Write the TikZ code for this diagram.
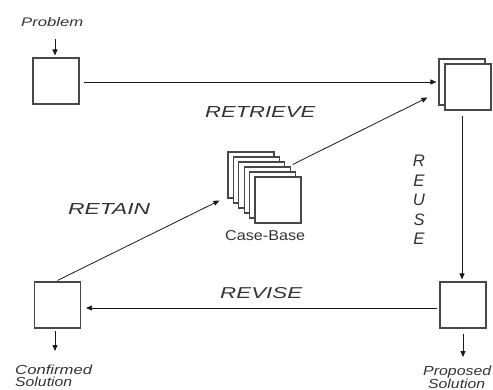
\documentclass[tikz,border=0pt]{standalone}
\usepackage{fontspec}
\setmainfont{Liberation Sans}
\usetikzlibrary{arrows.meta}
\newcommand{\fitlab}[3]{\resizebox{#1pt}{#2pt}{\itshape #3}}
\newcommand{\fitup}[3]{\resizebox{#1pt}{#2pt}{#3}}
\newcommand{\capl}[1]{\resizebox{!}{11.5pt}{\itshape #1}}
\begin{document}
\begin{tikzpicture}[x=1pt,y=-1pt,
  box/.style={draw=black!72, line width=1.1pt, fill=white, minimum width=46pt, minimum height=46pt, inner sep=0pt},
  arr/.style={-{Triangle[length=6pt,width=5pt]}, line width=0.8pt, draw=black!90},
  lab/.style={inner sep=0pt, anchor=base west, text=black!80},
  letter/.style={inner sep=0pt, anchor=center, text=black!80}]
\useasboundingbox (0,0) rectangle (493,389);

% boxes
\node[box] (pbox) at (56,81) {};
\node[box] (trb) at (462,82) {};
\node[box] (trf) at (468,87) {};
\node[box] (prop) at (463,305) {};
\node[box] (cbox) at (57.5,305) {};
\foreach \i in {0,...,5}{
  \node[box] (cb\i) at ({251+5.4*\i},{175+5*\i}) {};
}

% labels
\node[lab] (plab) at (21,26) {\fitlab{62}{9}{Problem}};
\node[lab] (retrieve) at (205,117) {\fitlab{110}{11}{RETRIEVE}};
\node[lab] (retain) at (68,214) {\fitlab{82}{11}{RETAIN}};
\node[lab] (revise) at (220,298) {\fitlab{82}{11}{REVISE}};
\node[lab] (cblab) at (225,240) {\fitup{80}{10}{Case-Base}};
\node[lab] (conf1) at (15,374) {\fitlab{77}{9.5}{Confirmed}};
\node[lab] (conf2) at (15,386) {\fitlab{57}{9.5}{Solution}};
\node[lab] (prop1) at (423,375) {\fitlab{68}{9.5}{Proposed}};
\node[lab] (prop2) at (428,388) {\fitlab{57}{9.5}{Solution}};
\node[letter] (u1) at (419,161) {\capl{R}};
\node[letter] (u2) at (419,181) {\capl{E}};
\node[letter] (u3) at (419,200) {\capl{U}};
\node[letter] (u4) at (419,220) {\capl{S}};
\node[letter] (u5) at (419,239) {\capl{E}};

% free ends
\coordinate (pin) at (55,39);
\coordinate (pout) at (463,357);
\coordinate (cout) at (55,351);

% connectors
\draw[arr, shorten >=2pt] (pin) -- (pin |- pbox.north);
\draw[arr, shorten <=4pt, shorten >=2pt] ([yshift=-1pt]pbox.east) -- ([yshift=-1pt]pbox.east -| trb.west);
\draw[arr, shorten <=5pt, shorten >=2pt] (trf.south -| trb) -- (prop.north -| trb);
\draw[arr, shorten <=5pt] (prop.south -| pout) -- (pout);
\draw[arr, shorten <=2pt, shorten >=5pt] ([yshift=-3pt]prop.west) -- ([yshift=-3pt]prop.west -| cbox.east);
\draw[arr, shorten <=2pt] (cbox.south -| cout) -- (cout);
\draw[arr] ([yshift=1pt]cbox.north) -- ([shift={(-8pt,-2pt)}]cb0.south west);
\draw[arr] ([shift={(2pt,2pt)}]cb3.north east) -- ([shift={(-11pt,8pt)}]trb.south west);
\end{tikzpicture}
\end{document}
